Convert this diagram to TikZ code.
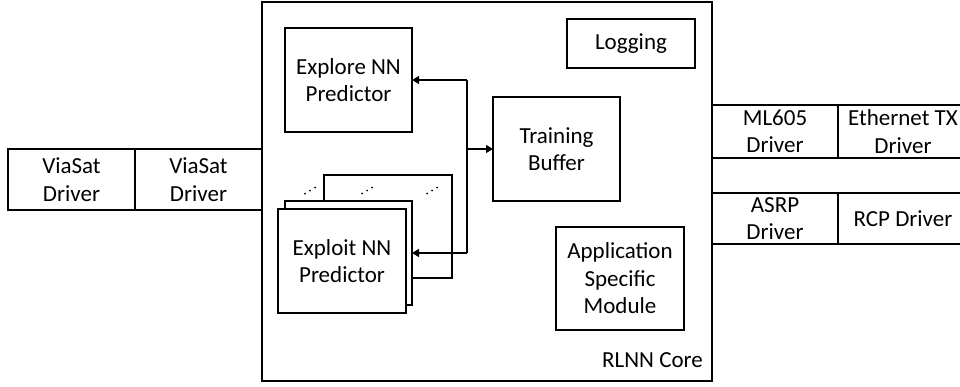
\documentclass[tikz,border=0pt]{standalone}
\usepackage{fontspec}
\setmainfont{Carlito}
\usetikzlibrary{arrows.meta}
\begin{document}
\begin{tikzpicture}[x=1pt,y=-1pt,
  lw/.style={line width=1.2pt},
  box/.style={draw, lw, fill=white, inner sep=0pt, outer sep=0pt, align=center,
    font=\fontsize{23}{27.5}\selectfont},
  arr/.style={lw, -{Triangle[length=7pt,width=8pt]}},
  dotc/.style={fill=black}]
\useasboundingbox (0,0) rectangle (960,386);
\begin{scope}
\clip (0,0) rectangle (960,386);
% core
\node[box, minimum width=450pt, minimum height=379pt] (core) at (487,191.5) {};
\node[anchor=base east, inner sep=0pt, font=\fontsize{23}{27.5}\selectfont] (corelbl) at (703,367) {RLNN Core};
% left drivers
\node[box, minimum width=127pt, minimum height=61pt] (via1) at (71.5,179.5) {ViaSat\\Driver};
\node[box, minimum width=127pt, minimum height=61pt] (via2) at (198.5,179.5) {ViaSat\\Driver};
% right drivers
\node[box, minimum width=126pt, minimum height=53pt] (ml) at (775,131.5) {ML605\\Driver};
\node[box, minimum width=130pt, minimum height=53pt] (eth) at (903,131.5) {Ethernet TX\\Driver};
\node[box, minimum width=126pt, minimum height=51pt] (asrp) at (775,218.5) {ASRP\\Driver};
\node[box, minimum width=130pt, minimum height=51pt] (rcp) at (903,218.5) {RCP Driver};
% inner modules
\node[box, minimum width=127pt, minimum height=104pt] (explore) at (348.5,80) {Explore NN\\Predictor};
\node[box, minimum width=127pt, minimum height=104pt] (train) at (556.5,149) {Training\\Buffer};
\node[box, minimum width=128pt, minimum height=49pt] (log) at (631,43.5) {Logging};
\node[box, minimum width=128pt, minimum height=103pt] (app) at (620,278.5) {Application\\Specific\\Module};
% exploit stack
\node[box, minimum width=128pt, minimum height=103pt] (exback) at (388,226.5) {};
\node[box, minimum width=127pt, minimum height=104pt] (exmid) at (348.5,253) {};
\node[box, minimum width=128pt, minimum height=104pt] (exfront) at (342,261) {Exploit NN\\Predictor};
% dots
\foreach \x in {305,362,427}{
  \fill[dotc] (\x,193.5) circle (1pt);
  \fill[dotc] (\x+5,190.5) circle (1pt);
  \fill[dotc] (\x+10,187.5) circle (1pt);
}
% connectors
\coordinate (jx) at (467,0);
\draw[lw] (explore.east -| jx) -- (exmid.east -| jx);
\draw[arr] (explore.east -| jx) -- (explore.east);
\draw[arr] (train.west -| jx) -- (train.west);
\draw[arr] (exmid.east -| jx) -- (exmid.east);
\end{scope}
\end{tikzpicture}
\end{document}
